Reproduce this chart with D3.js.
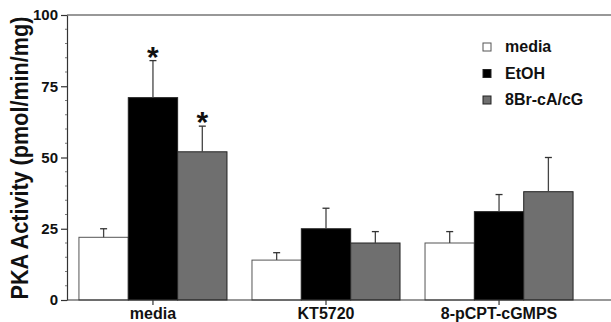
<!DOCTYPE html>
<html>
<head>
<meta charset="utf-8">
<script src="https://cdn.jsdelivr.net/npm/d3@7"></script>
<style>
  body { margin: 0; background: #fff; }
  svg text { font-family: "Liberation Sans", Arial, sans-serif; font-weight: bold; fill: #111; }
</style>
</head>
<body>
<script>
// data
const categories = ["media", "KT5720", "8-pCPT-cGMPS"];
const series = ["media", "EtOH", "8Br-cA/cG"];
const means = [
  [22, 71, 52],
  [14, 25, 20],
  [20, 31, 38]
];
const errors = [
  [3, 13, 9],
  [2.6, 7.2, 4],
  [4, 6, 12]
];
const significant = [
  [false, true, true],
  [false, false, false],
  [false, false, false]
];
const yTicks = [0, 25, 50, 75, 100];
const colors = ["#ffffff", "#000000", "#6f6f6f"];

const W = 611, H = 322;
const mLeft = 67, mRight = 611, mTop = 15, mBottom = 300;

const svg = d3.select("body").append("svg")
  .attr("width", W).attr("height", H);

const y = d3.scaleLinear().domain([0, 100]).range([mBottom, mTop]);

// groups
const x0 = d3.scaleBand()
  .domain(categories)
  .range([67, 585])
  .paddingInner(0.1445)
  .paddingOuter(0.069);
const x1 = d3.scaleBand()
  .domain(series)
  .range([0, x0.bandwidth()]);

// top frame line
svg.append("line")
  .attr("x1", mLeft).attr("x2", mRight)
  .attr("y1", mTop).attr("y2", mTop)
  .attr("stroke", "#333").attr("stroke-width", 1.2);

// bars
const rows = [];
categories.forEach((c, i) => {
  series.forEach((s, j) => {
    rows.push({ c, s, j, v: means[i][j], e: errors[i][j], sig: significant[i][j] });
  });
});

const g = svg.append("g");
g.selectAll("rect.bar").data(rows).enter().append("rect")
  .attr("class", "bar")
  .attr("x", d => x0(d.c) + x1(d.s))
  .attr("y", d => y(d.v))
  .attr("width", x1.bandwidth())
  .attr("height", d => y(0) - y(d.v))
  .attr("fill", d => colors[d.j])
  .attr("stroke", d => d.j === 0 ? "#555" : "#222")
  .attr("stroke-width", 1);

// error bars (upper only)
const cx = d => x0(d.c) + x1(d.s) + x1.bandwidth() / 2;
g.selectAll("line.err").data(rows).enter().append("line")
  .attr("x1", cx).attr("x2", cx)
  .attr("y1", d => y(d.v)).attr("y2", d => y(d.v + d.e))
  .attr("stroke", "#444").attr("stroke-width", 1.3);
g.selectAll("line.cap").data(rows).enter().append("line")
  .attr("x1", d => cx(d) - 3.5).attr("x2", d => cx(d) + 3.5)
  .attr("y1", d => y(d.v + d.e)).attr("y2", d => y(d.v + d.e))
  .attr("stroke", "#333").attr("stroke-width", 1.3);

// significance stars
g.selectAll("text.star").data(rows.filter(d => d.sig)).enter().append("text")
  .attr("x", cx)
  .attr("y", d => y(d.v + d.e) + 6)
  .attr("text-anchor", "middle")
  .style("font-size", "30px")
  .text("*");

// y axis
const yAxis = svg.append("g")
  .attr("transform", `translate(${mLeft},0)`)
  .call(d3.axisLeft(y).tickValues(yTicks).tickSize(6).tickSizeOuter(0).tickPadding(3));
yAxis.select(".domain").attr("stroke", "#333").attr("stroke-width", 1.2);
yAxis.selectAll(".tick line").attr("stroke", "#333").attr("stroke-width", 1.2);
yAxis.selectAll(".tick text").style("font-size", "15px").attr("fill", "#111");

// minor ticks
svg.append("g").selectAll("line").data(d3.range(5, 100, 5).filter(v => v % 25 !== 0))
  .enter().append("line")
  .attr("x1", mLeft - 2).attr("x2", mLeft)
  .attr("y1", d => y(d)).attr("y2", d => y(d))
  .attr("stroke", "#777").attr("stroke-width", 1);

// x axis
const xAxis = svg.append("g")
  .attr("transform", `translate(0,${mBottom})`)
  .call(d3.axisBottom(x0).tickSize(5).tickSizeOuter(0).tickPadding(3));
xAxis.select(".domain").remove();
xAxis.selectAll(".tick line").attr("stroke", "#333").attr("stroke-width", 1.2);
xAxis.selectAll(".tick text").style("font-size", "16px").attr("fill", "#111");
svg.append("line")
  .attr("x1", mLeft).attr("x2", mRight)
  .attr("y1", mBottom).attr("y2", mBottom)
  .attr("stroke", "#333").attr("stroke-width", 1.2);

// y label (slightly condensed like the original type)
svg.append("text")
  .attr("transform", `translate(28,158) rotate(-90) scale(0.9,1)`)
  .attr("text-anchor", "middle")
  .style("font-size", "24px")
  .text("PKA Activity (pmol/min/mg)");

// legend
const legend = svg.append("g").attr("transform", "translate(483,43)");
series.forEach((s, j) => {
  const row = legend.append("g").attr("transform", `translate(0,${j * 26.5})`);
  row.append("rect")
    .attr("width", 8).attr("height", 8)
    .attr("fill", colors[j])
    .attr("stroke", j === 0 ? "#555" : "#222");
  row.append("text")
    .attr("x", 22).attr("y", 9)
    .style("font-size", "16px")
    .text(s);
});
</script>
</body>
</html>
